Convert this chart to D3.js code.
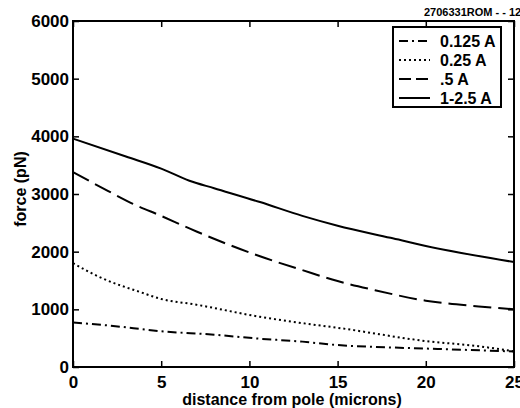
<!DOCTYPE html>
<html><head><meta charset="utf-8">
<script src="https://cdn.jsdelivr.net/npm/d3@7"></script>
<style>body{margin:0;background:#fff}svg{display:block}text{font-family:"Liberation Sans",Arial,sans-serif;font-weight:bold;fill:#000}</style>
</head><body><svg id="c" width="520" height="408"></svg>
<script>
const xTicks = [0,5,10,15,20,25];
const yTicks = [0,1000,2000,3000,4000,5000,6000];
const seriesNames = ["0.125 A","0.25 A",".5 A","1-2.5 A"];
const x0125 = [0,2,5,8,10.6,13,15,17,20,22,25];
const y0125 = [770,720,620,560,490,440,380,350,320,300,270];
const x025 = [0,1.5,3.8,5,7,10.6,13,15,20,23,25];
const y025 = [1800,1560,1300,1180,1080,870,760,680,450,360,270];
const x05 = [0,2,3.4,5,7,10.6,13,15,17,20,23,25];
const y05 = [3380,3050,2830,2620,2350,1920,1680,1490,1340,1150,1050,1000];
const x125 = [0,3,5,6.6,8,10.6,13,15,18,20,25];
const y125 = [3960,3650,3440,3230,3100,2860,2620,2450,2240,2100,1820];
const dashes = ["9,4,2,4","2,3","18,7",null];

const svg = d3.select("#c");
const L=73,R=514,T=21,B=367;
const x = d3.scaleLinear().domain([0,25]).range([L,R]);
const y = d3.scaleLinear().domain([0,6000]).range([B,T]);

svg.append("rect").attr("x",L).attr("y",T).attr("width",R-L).attr("height",B-T).attr("fill","none").attr("stroke","#000").attr("stroke-width",2);

const fs = 17;
const gx = svg.append("g").attr("transform",`translate(0,${B})`).call(d3.axisBottom(x).tickValues(xTicks).tickSizeInner(-6).tickSizeOuter(0).tickPadding(9).tickFormat(d3.format("d")));
const gy = svg.append("g").attr("transform",`translate(${L},0)`).call(d3.axisLeft(y).tickValues(yTicks).tickSizeInner(-6).tickSizeOuter(0).tickPadding(4).tickFormat(d3.format("d")));
const gx2 = svg.append("g").attr("transform",`translate(0,${T})`).call(d3.axisTop(x).tickValues(xTicks).tickSizeInner(-6).tickSizeOuter(0).tickFormat(""));
const gy2 = svg.append("g").attr("transform",`translate(${R},0)`).call(d3.axisRight(y).tickValues(yTicks).tickSizeInner(-6).tickSizeOuter(0).tickFormat(""));
[gx,gy,gx2,gy2].forEach(g=>{g.attr("font-size",null).attr("font-family",null);g.select(".domain").remove();g.selectAll("line").attr("stroke","#000").attr("stroke-width",1.5);g.selectAll("text").attr("font-size",fs);});

const line = d3.line().x(d=>x(d[0])).y(d=>y(d[1])).curve(d3.curveMonotoneX);
const data = [[x0125,y0125],[x025,y025],[x05,y05],[x125,y125]];
data.forEach((s,i)=>{
  const pts = s[0].map((v,j)=>[v,s[1][j]]);
  svg.append("path").attr("d",line(pts)).attr("fill","none").attr("stroke","#000").attr("stroke-width",2).attr("stroke-dasharray",dashes[i]);
});

// legend
const lg = svg.append("g");
lg.append("rect").attr("x",393).attr("y",27).attr("width",108).attr("height",80).attr("fill","#fff").attr("stroke","#000").attr("stroke-width",2);
seriesNames.forEach((n,i)=>{
  const yy = 41+i*19;
  lg.append("line").attr("x1",399).attr("x2",430).attr("y1",yy).attr("y2",yy).attr("stroke","#000").attr("stroke-width",2).attr("stroke-dasharray",i===2?"12,5":dashes[i]);
  lg.append("text").attr("x",440).attr("y",yy).attr("dy","0.36em").attr("font-size",16).text(n);
});

svg.append("text").attr("x",292).attr("y",399).attr("dy","0.36em").attr("text-anchor","middle").attr("font-size",16).text("distance from pole (microns)");
svg.append("text").attr("transform","translate(20,189) rotate(-90)").attr("dy","0.36em").attr("text-anchor","middle").attr("font-size",16).text("force (pN)");
svg.append("text").attr("x",424).attr("y",12).attr("dy","0.36em").attr("font-size",11).text("2706331ROM - - 12");
</script></body></html>
